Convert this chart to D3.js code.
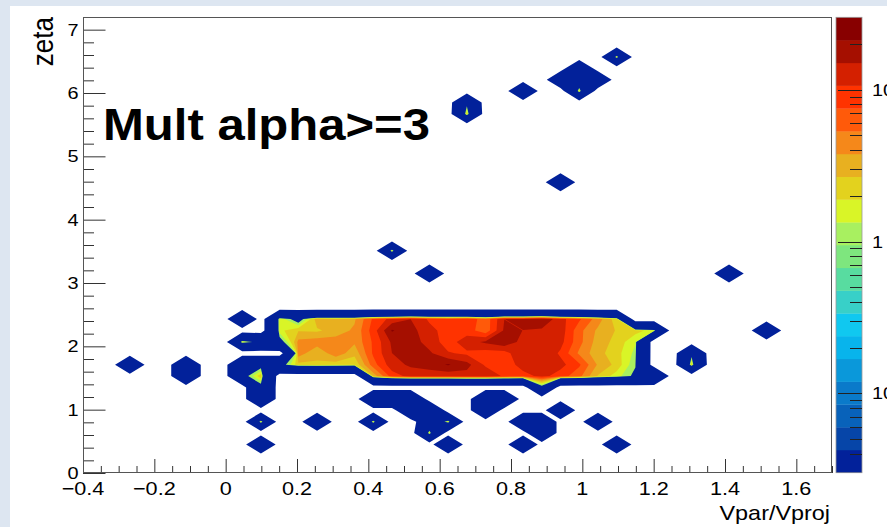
<!DOCTYPE html>
<html>
<head>
<meta charset="utf-8">
<script src="https://cdn.jsdelivr.net/npm/d3@7/dist/d3.min.js"></script>
<style>
  html, body { margin: 0; padding: 0; background: #dde6f1; }
  svg { display: block; }
  text { font-family: "Liberation Sans", Arial, Helvetica, sans-serif; fill: #000; }
</style>
</head>
<body>
<svg id="chart" width="887" height="527"></svg>
<script>
// ---- histogram binning and axis setup ----
const xAxisRange = [-0.4, 1.7];
const yAxisRange = [0, 7.2];
const nBinsX = 40;
const nBinsY = 40;
const zRange = [0.03, 30];
const nLevels = 20;

const xTickValues = [-0.4, -0.2, 0, 0.2, 0.4, 0.6, 0.8, 1, 1.2, 1.4, 1.6];
const xTickLabels = ["\u22120.4", "\u22120.2", "0", "0.2", "0.4", "0.6", "0.8", "1", "1.2", "1.4", "1.6"];
const yTickValues = [0, 1, 2, 3, 4, 5, 6, 7];
const yTickLabels = ["0", "1", "2", "3", "4", "5", "6", "7"];
const zTickValues = [0.1, 1, 10];

// palette, lowest level first
const palette = [
  "#02219a", "#0645a8", "#0862ba", "#0a7aca", "#0a98da",
  "#08b4ec", "#10c8f0", "#38d0c8", "#58dca0", "#7ee67e",
  "#a8f060", "#d9f527", "#e3d21e", "#e8b020", "#f5881a",
  "#ff5a0a", "#ff3300", "#d42000", "#a50f00", "#880000"
];

// ---- bin contents ----
// dense band around zeta ~ 1.5-2.5, columns 8..30
const coreFirstX = 8;
const row13 = [0.6, 0, 1.8, 0.6, 3.4, 3.0, 3.6, 8, 12, 15, 10, 9, 10, 6, 15, 16, 21, 12, 8, 4.5, 2.2, 0, 0];
const row12 = [0, 0, 1.7, 2.6, 2.5, 3.2, 4.0, 9, 22, 17, 12, 9, 9, 6, 16, 15, 14, 13, 6, 3.5, 2.6, 2.2, 1.6];
const row11 = [2.0, 0.5, 0.6, 4.2, 4.6, 4.4, 4.0, 8, 16, 18, 13, 9, 13, 16, 20, 13, 15, 12, 6, 3.2, 2.4, 1.4, 0];
const row10 = [0, 0, 0, 4.6, 2.8, 4.8, 3.0, 8, 15, 19, 16, 11, 10, 9, 9, 15, 15, 10, 5, 3.0, 2.2, 1.2, 0];
const row9  = [0.6, 0.6, 0.6, 2.4, 2.6, 2.2, 2.0, 6.5, 13, 16, 18, 22, 17, 10, 8, 13, 15, 12, 8, 3.6, 2.4, 1.0, 0];
const row8  = [0.6, 2.5, 0, 0, 0, 0, 0, 3.0, 9, 12, 12, 12, 13, 14, 10, 9, 12, 9, 6, 2.6, 1.6, 0.8, 0.6];
const coreRows = [[13, row13], [12, row12], [11, row11], [10, row10], [9, row9], [8, row8]];

// scattered bins: [ix, iy, content]
const scatterBins = [
  [2, 9, 0.6], [5, 8, 0.6], [5, 9, 0.6], [9, 7, 0.6], [9, 6, 0.6],
  [9, 4, 2.2], [9, 2, 0.6], [12, 4, 0.6], [15, 4, 2.2],
  [15, 6, 0.6], [16, 6, 0.6], [17, 6, 0.6], [17, 5, 0.6], [18, 5, 0.6],
  [18, 4, 0.05], [19, 4, 2.0], [18, 3, 2.0], [19, 2, 0.6],
  [21, 5, 0.6], [21, 6, 0.6], [22, 6, 0.6],
  [23, 4, 0.6], [24, 4, 0.6], [25, 5, 0.6], [24, 3, 0.6], [23, 2, 0.6],
  [27, 4, 0.6], [28, 2, 0.6], [24, 7, 0.6],
  [32, 9, 2.5], [32, 10, 0.6], [36, 12, 0.6], [34, 17, 0.6],
  [18, 17, 0.6], [16, 19, 2.2], [25, 25, 0.6],
  [20, 31, 2.5], [20, 32, 0.6], [23, 33, 0.6],
  [26, 33, 2.2], [25, 34, 0.1], [26, 34, 0.1], [27, 34, 0.1], [26, 35, 0.1],
  [28, 36, 2.2]
];

// ---- layout ----
const frame = { left: 83, right: 832, top: 17, bottom: 473 };
const bar = { left: 836, right: 862, top: 17.3, bottom: 472.7 };
const textStretch = 1.17; // glyphs are drawn a little wider than tall

const svg = d3.select("#chart");
svg.append("rect").attr("x", 10).attr("y", 6).attr("width", 877).attr("height", 521).attr("fill", "#ffffff");

const x = d3.scaleLinear().domain(xAxisRange).range([frame.left, frame.right]);
const y = d3.scaleLinear().domain(yAxisRange).range([frame.bottom, frame.top]);
const z = d3.scaleLog().domain(zRange).range([bar.bottom, bar.top]);

// ---- fill the bin grid ----
const binW = (xAxisRange[1] - xAxisRange[0]) / nBinsX;
const binH = (yAxisRange[1] - yAxisRange[0]) / nBinsY;
const content = new Array(nBinsX * nBinsY).fill(0);
coreRows.forEach(([iy, vals]) => vals.forEach((v, k) => { content[iy * nBinsX + coreFirstX + k] = v; }));
scatterBins.forEach(([ix, iy, v]) => { content[iy * nBinsX + ix] = v; });

// contours are traced on log10(content); empty bins sit on a floor well below the scale
const logMin = Math.log10(zRange[0]);
const logMax = Math.log10(zRange[1]);
const logStep = (logMax - logMin) / nLevels;
const emptyFloor = -4;
const field = content.map(v => (v > 0 ? Math.log10(v) : emptyFloor));

// first band starts just above the floor; everything below 1 is drawn with the base colour
const levels = [emptyFloor * 0.8];
const levelColors = [palette[0]];
for (let k = 10; k < nLevels; k++) {
  levels.push(logMin + k * logStep);
  levelColors.push(palette[k]);
}

const bands = d3.contours().size([nBinsX, nBinsY]).thresholds(levels)(field);

// grid coordinates -> data -> screen
const toScreen = d3.geoTransform({
  point(cx, cy) {
    this.stream.point(x(xAxisRange[0] + cx * binW), y(yAxisRange[0] + cy * binH));
  }
});
const path = d3.geoPath(toScreen);

svg.append("clipPath").attr("id", "plotClip")
  .append("rect").attr("x", frame.left).attr("y", frame.top)
  .attr("width", frame.right - frame.left).attr("height", frame.bottom - frame.top);

svg.append("g").attr("clip-path", "url(#plotClip)")
  .selectAll("path").data(bands).join("path")
  .attr("d", path)
  .attr("fill", (d, i) => levelColors[i])
  .attr("stroke", "none");

// ---- axes ----
const axisColor = "#333";
const xMinor = d3.range(-0.4, 1.7001, 0.05).filter(v => !xTickValues.some(t => Math.abs(t - v) < 1e-6));
const yMinor = d3.range(0, 7.2001, 0.2).filter(v => !yTickValues.some(t => Math.abs(t - v) < 1e-6) && v < 7.15);

// small helper: a text anchored at (px, py), stretched horizontally
function label(g, px, py, str, size, anchor) {
  return g.append("text")
    .attr("transform", `translate(${px},${py}) scale(${textStretch},1)`)
    .attr("text-anchor", anchor)
    .attr("font-size", size)
    .text(str);
}

const gx = svg.append("g").attr("transform", `translate(0,${frame.bottom})`);
gx.call(d3.axisBottom(x).tickValues(xTickValues).tickSize(-14).tickFormat(""));
gx.append("g").call(d3.axisBottom(x).tickValues(xMinor).tickSize(-7).tickFormat(""));
gx.selectAll(".domain").remove();
gx.selectAll("line").attr("stroke", axisColor);
const gxLabels = svg.append("g");
xTickValues.forEach((v, i) => label(gxLabels, x(v), 495, xTickLabels[i], 18.5, "middle"));

const gy = svg.append("g").attr("transform", `translate(${frame.left},0)`);
gy.call(d3.axisLeft(y).tickValues(yTickValues).tickSize(-22.5).tickFormat(""));
gy.append("g").call(d3.axisLeft(y).tickValues(yMinor).tickSize(-11).tickFormat(""));
gy.selectAll(".domain").remove();
gy.selectAll("line").attr("stroke", axisColor);
const gyLabels = svg.append("g");
yTickValues.forEach((v, i) => label(gyLabels, 78.5, y(v) + 6, yTickLabels[i], 17, "end"));

// frame
svg.append("rect")
  .attr("x", frame.left + 0.5).attr("y", frame.top + 0.5)
  .attr("width", frame.right - frame.left - 1).attr("height", frame.bottom - frame.top - 1)
  .attr("fill", "none").attr("stroke", "#555").attr("stroke-width", 1);

// ---- colour bar ----
const barBands = d3.range(nLevels).map(k => ({
  lo: Math.pow(10, logMin + k * logStep),
  hi: Math.pow(10, logMin + (k + 1) * logStep),
  color: palette[k]
}));
svg.append("g").selectAll("rect").data(barBands).join("rect")
  .attr("x", bar.left).attr("width", bar.right - bar.left)
  .attr("y", d => z(d.hi)).attr("height", d => z(d.lo) - z(d.hi) + 0.3)
  .attr("fill", d => d.color);
svg.append("rect")
  .attr("x", bar.left).attr("y", bar.top).attr("width", bar.right - bar.left).attr("height", bar.bottom - bar.top)
  .attr("fill", "none").attr("stroke", "#999").attr("stroke-width", 0.8);

const zTicks = z.ticks().filter(v => v > zRange[0] * 1.01 && v < zRange[1] * 0.99);
svg.append("g").selectAll("line").data(zTicks).join("line")
  .attr("x1", d => (zTickValues.some(t => Math.abs(t - d) < 1e-9) ? bar.right - 24 : bar.right - 12))
  .attr("x2", bar.right)
  .attr("y1", d => Math.round(z(d)) + 0.5).attr("y2", d => Math.round(z(d)) + 0.5)
  .attr("stroke", "#222").attr("stroke-width", 1);

const zLabels = svg.append("g");
label(zLabels, 872, z(10) + 6, "10", 17, "start");
label(zLabels, 872, z(1) + 6, "1", 17, "start");
const tm1 = label(zLabels, 872, z(0.1) + 6, "", 17, "start");
tm1.append("tspan").text("10");
tm1.append("tspan").attr("dy", "-0.6em").attr("font-size", 12).text("\u22121");

// ---- titles ----
label(svg, 830, 520, "Vpar/Vproj", 20, "end");
svg.append("text")
  .attr("transform", `translate(53,17) scale(${textStretch},1) rotate(-90)`)
  .attr("text-anchor", "end").attr("font-size", 26).text("zeta");

svg.append("text").attr("x", 103).attr("y", 140)
  .attr("font-family", "'Comic Sans MS', 'DejaVu Sans Condensed', 'DejaVu Sans', sans-serif")
  .attr("font-weight", "bold").attr("font-size", 44)
  .attr("textLength", 327).attr("lengthAdjust", "spacingAndGlyphs")
  .text("Mult alpha>=3");
</script>
</body>
</html>
